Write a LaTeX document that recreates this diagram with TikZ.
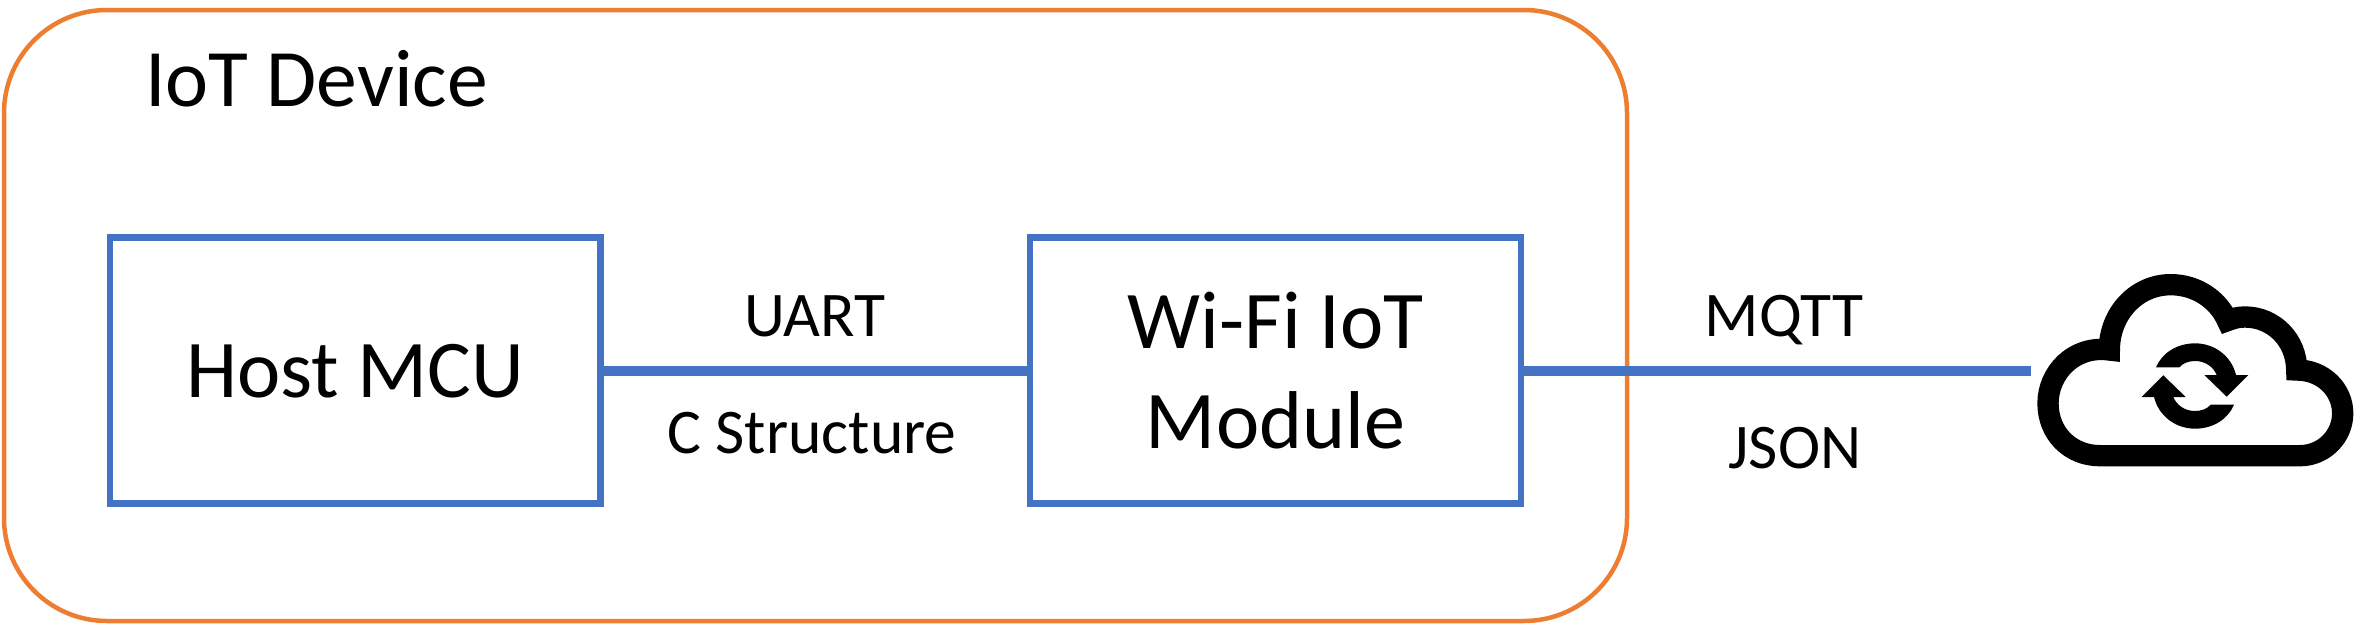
\documentclass[tikz,border=0pt]{standalone}
\usepackage{fontspec}
\setmainfont{Carlito}
\definecolor{boxblue}{HTML}{4472C4}
\definecolor{devorange}{HTML}{ED7D31}
\tikzset{
  devicebox/.style={draw=devorange,line width=2.25pt,rounded corners=51.5pt,outer sep=0pt,inner sep=0pt},
  modulebox/.style={draw=boxblue,line width=3.4pt,outer sep=0pt,align=center,inner sep=0pt,font=\fontsize{41}{49.65}\selectfont},
  link/.style={draw=boxblue,line width=5pt},
  biglabel/.style={inner sep=0pt,anchor=base,font=\fontsize{40.8}{48}\selectfont},
  smalllabel/.style={inner sep=0pt,anchor=base,font=\fontsize{31.8}{36}\selectfont},
  cloudline/.style={draw=black,line width=10.67pt,miter limit=10,line join=miter},
}
\begin{document}
\begin{tikzpicture}[x=0.5pt,y=-0.5pt]
\useasboundingbox (0,0) rectangle (2360,627);
\node[devicebox,minimum width=1623*0.5pt,minimum height=611*0.5pt] (device) at (815.5,315.5) {};
\node[biglabel] (title) at (316.5,106) {IoT Device};
\node[modulebox,minimum width=490.7*0.5pt,minimum height=266*0.5pt] (host) at (355.3,370.7) {Host MCU};
\node[modulebox,minimum width=491*0.5pt,minimum height=266*0.5pt] (wifi) at (1275.5,370.7) {Wi-Fi IoT\\Module};
\coordinate (linkend) at (2031,370.7);
\draw[link] (host.east) -- (wifi.west);
\draw[link] (wifi.east) -- (linkend);
\node[smalllabel] (uart) at (815,336) {UART};
\node[smalllabel] (cstruct) at (812,453) {C Structure};
\node[smalllabel] (mqtt) at (1784,336) {MQTT};
\node[smalllabel] (json) at (1795,468) {JSON};
% cloud icon, in coordinates of a 3x view
\begin{scope}[shift={(1980,250)},x=0.16667pt,y=-0.16667pt]
\draw[cloudline] (360,617) .. controls (270,617) and (204,550) .. (204,460)
  .. controls (204,370) and (280,285) .. (388,300)
  .. controls (388,190) and (470,104) .. (572,104)
  .. controls (650,104) and (715,150) .. (742,212)
  .. controls (760,205) and (775,201) .. (795,201)
  .. controls (880,201) and (950,270) .. (950,360)
  .. controls (1030,360) and (1088,420) .. (1088,490)
  .. controls (1088,560) and (1030,617) .. (960,617) -- cycle;
\fill[black] (528,352) .. controls (545,310) and (590,280) .. (645,280)
  .. controls (705,280) and (755,320) .. (768,375) -- (805,375) -- (740,440) -- (673,375) -- (710,375)
  .. controls (700,350) and (675,333) .. (645,333)
  .. controls (625,333) and (608,340) .. (598,352) -- cycle;
\fill[black] (762,464) .. controls (745,506) and (700,536) .. (645,536)
  .. controls (585,536) and (535,496) .. (522,441) -- (485,441) -- (550,376) -- (617,441) -- (580,441)
  .. controls (590,466) and (615,483) .. (645,483)
  .. controls (665,483) and (682,476) .. (692,464) -- cycle;
\end{scope}
\end{tikzpicture}
\end{document}
